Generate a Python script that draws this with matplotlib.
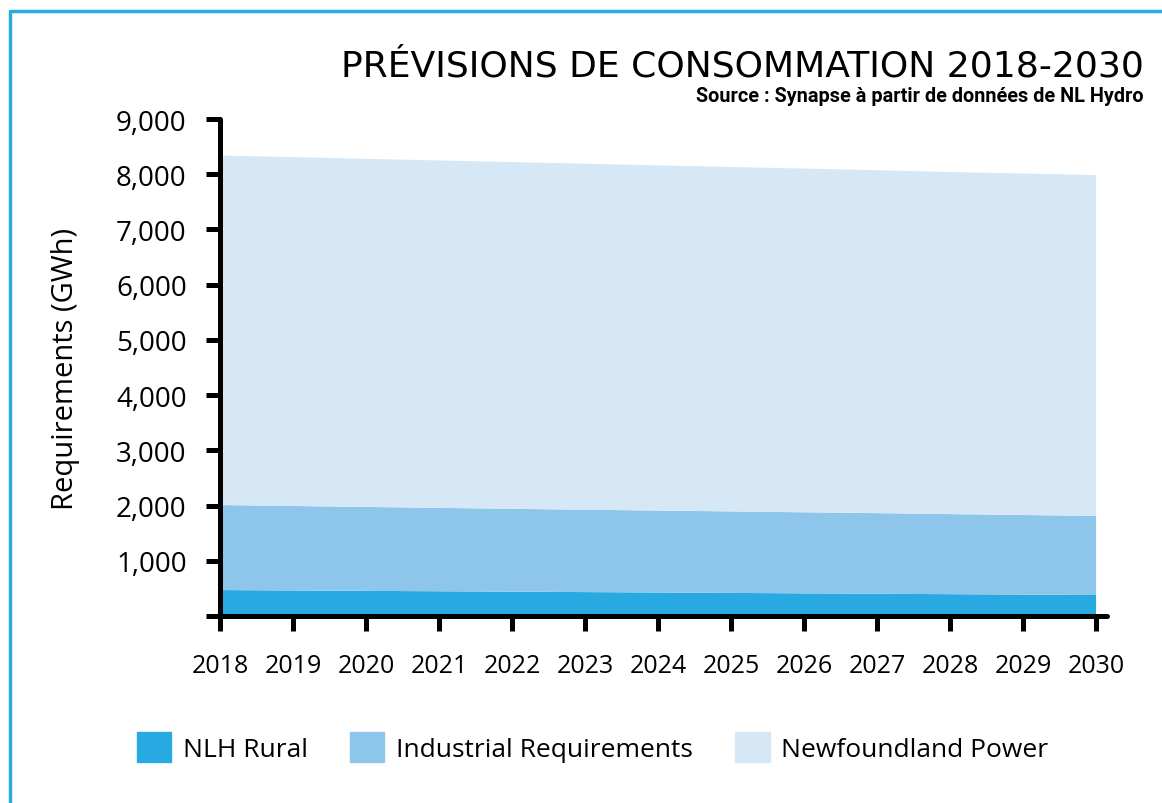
import matplotlib.pyplot as plt
import matplotlib.patches as mpatches
import numpy as np

years = [2018, 2019, 2020, 2021, 2022, 2023, 2024, 2025, 2026, 2027, 2028, 2029, 2030]
nlh_rural = [470, 462, 455, 448, 441, 433, 425, 418, 410, 403, 395, 388, 380]
industrial = [1540, 1530, 1520, 1510, 1500, 1492, 1484, 1476, 1468, 1460, 1450, 1441, 1432]
nf_power = [6330, 6318, 6305, 6292, 6280, 6266, 6252, 6238, 6225, 6210, 6196, 6185, 6173]
labels = ['NLH Rural', 'Industrial Requirements', 'Newfoundland Power']
colors = ['#29a9e1', '#8dc5eb', '#d6e8f6']
yticks = [0, 1000, 2000, 3000, 4000, 5000, 6000, 7000, 8000, 9000]

plt.rcParams['font.family'] = ['Open Sans', 'DejaVu Sans']

fig = plt.figure(figsize=(11.62, 8.04), dpi=100)
ax = fig.add_axes([0.1893, 0.2326, 0.7634, 0.6181])

ax.stackplot(years, nlh_rural, industrial, nf_power, colors=colors,
             labels=labels, linewidth=0)

ax.set_xlim(2018, 2030.15)
ax.set_ylim(0, 9000)
ax.set_xticks(years)
ax.set_yticks(yticks)
ax.set_yticklabels(['' if v == 0 else f'{v:,}' for v in yticks])
ax.tick_params(axis='both', width=3.6, length=10, color='black', pad=14)
ax.tick_params(axis='y', labelsize=20)
ax.tick_params(axis='x', labelsize=18, length=11, pad=16)
for s in ['top', 'right']:
    ax.spines[s].set_visible(False)
for s in ['left', 'bottom']:
    ax.spines[s].set_linewidth(3.6)
    ax.spines[s].set_capstyle('round')
ax.set_ylabel('Requirements (GWh)', fontsize=21, labelpad=26)

fig.text(0.984, 0.905, 'PRÉVISIONS DE CONSOMMATION 2018-2030', ha='right',
         va='baseline', fontsize=26, family='DejaVu Sans')
fig.text(0.984, 0.873, 'Source : Synapse à partir de données de NL Hydro',
         ha='right', va='baseline', fontsize=14.3, fontweight='bold',
         family=['Roboto', 'DejaVu Sans'])

handles = [mpatches.Patch(color=c, label=l) for c, l in zip(colors, labels)]
fig.legend(handles=handles, loc='center', bbox_to_anchor=(0.51, 0.0697),
           ncol=3, frameon=False, fontsize=19, handlelength=1.3,
           handleheight=1.35, handletextpad=0.45, columnspacing=1.6)

# cadre bleu a gauche et en haut
fig.add_artist(plt.Line2D([0.0086, 0.0086, 1.0], [0.0, 0.985, 0.985],
                          transform=fig.transFigure, color='#29abe2', lw=2.5))

fig.savefig('out.png', dpi=100)
